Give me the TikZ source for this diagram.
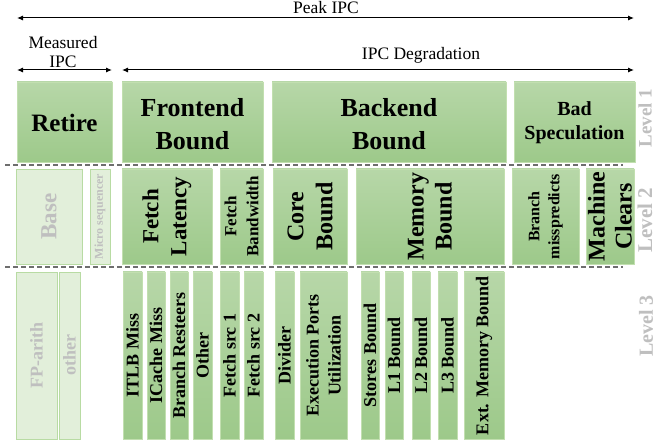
\documentclass[tikz,border=0pt]{standalone}
\usepackage{fontspec}
\setmainfont{Liberation Serif}
\usetikzlibrary{arrows.meta}
\definecolor{gtop}{HTML}{B7D7A8}
\definecolor{gbot}{HTML}{9DC98A}
\definecolor{gline}{HTML}{C2DFB0}
\definecolor{ffill}{HTML}{E2EFDA}
\definecolor{fline}{HTML}{B8DBA3}
\definecolor{ftext}{HTML}{BFBFBF}
\definecolor{lvl}{HTML}{BFBFBF}
\definecolor{dashc}{HTML}{6E6E6E}
\newcommand\fs[2]{\fontsize{#1}{#2}\selectfont}
\newcommand\bx[6]{\node[#1,minimum width={(#5-#3)*1pt},minimum height={(#6-#4)*1pt}] (#2) at ({(#3+#5)/2},{(#4+#6)/2}) {};}
\tikzset{
  gbox/.style={rectangle,draw=gline,line width=0.8pt,top color=gtop,bottom color=gbot,inner sep=0pt,outer sep=0pt},
  fbox/.style={rectangle,draw=fline,line width=0.8pt,fill=ffill,inner sep=0pt,outer sep=0pt},
  htxt/.style={inner sep=0pt,align=center,font=\bfseries},
  vtxt/.style={inner sep=0pt,align=center,rotate=90,font=\bfseries},
  ftxt/.style={vtxt,text=ftext},
  lvltxt/.style={inner sep=0pt,rotate=90,text=lvl,font=\bfseries},
  toptxt/.style={inner sep=0pt,align=center,font=\fs{17.5}{19}},
  ipc/.style={draw=black,line width=1pt,{Latex[length=6pt,width=5pt]}-{Latex[length=6pt,width=5pt]}},
  sepline/.style={draw=dashc,line width=1.5pt,dash pattern=on 5pt off 3pt}
}
\begin{document}
\begin{tikzpicture}[x=1pt,y=-1pt]
\useasboundingbox (0,0) rectangle (657,441);
% top arrows
\coordinate (pk1) at (17,18); \coordinate (pk2) at (634,18);
\draw[ipc] (pk1) -- (pk2);
\node[toptxt] (peak) at (326,8) {Peak IPC};
\coordinate (ms1) at (17,70); \coordinate (ms2) at (112,70);
\draw[ipc] (ms1) -- (ms2);
\node[toptxt] (meas) at (63,52) {Measured\\IPC};
\coordinate (dg1) at (122,70); \coordinate (dg2) at (634,70);
\draw[ipc] (dg1) -- (dg2);
\node[toptxt] (degr) at (421,55) {IPC Degradation};
% separators
\coordinate (s1a) at (5,165); \coordinate (s1b) at (623,165);
\coordinate (s2a) at (5,267); \coordinate (s2b) at (623,267);
\draw[sepline] (s1a) -- (s1b);
\draw[sepline] (s2a) -- (s2b);
% level 1
\bx{gbox}{retire}{17}{82}{112}{162}
\bx{gbox}{front}{122}{82}{263}{162}
\bx{gbox}{back}{272}{82}{506}{162}
\bx{gbox}{bads}{514}{82}{635}{162}
\node[htxt,font=\bfseries\fs{25}{30}] (retire-t) at ([yshift=-1pt]retire) {Retire};
\node[htxt,font=\bfseries\fs{26}{33}] (front-t) at ([yshift=-2pt]front) {Frontend\\Bound};
\node[htxt,font=\bfseries\fs{26}{33}] (back-t) at ([yshift=-2pt]back) {Backend\\Bound};
\node[htxt,font=\bfseries\fs{20}{24}] (bads-t) at ([yshift=-1pt]bads) {Bad\\Speculation};
% level 2
\bx{fbox}{base}{16}{169}{82}{264}
\bx{fbox}{micro}{90}{169}{110}{264}
\bx{gbox}{flat}{122}{169}{212}{264}
\bx{gbox}{fbw}{220}{169}{263}{264}
\bx{gbox}{core}{273}{169}{347}{264}
\bx{gbox}{mem}{356}{169}{504}{264}
\bx{gbox}{brm}{512}{169}{579}{264}
\bx{gbox}{mach}{586}{169}{634}{264}
\node[ftxt,font=\bfseries\fs{23}{27}] (base-t) at (base) {Base};
\node[ftxt,font=\bfseries\fs{12}{14}] (micro-t) at (micro) {Micro sequencer};
\node[vtxt,font=\bfseries\fs{23}{28}] (flat-t) at (flat) {Fetch\\Latency};
\node[vtxt,font=\bfseries\fs{17}{22}] (fbw-t) at (fbw) {Fetch\\Bandwidth};
\node[vtxt,font=\bfseries\fs{24}{29}] (core-t) at (core) {Core\\Bound};
\node[vtxt,font=\bfseries\fs{24}{28}] (mem-t) at (mem) {Memory\\Bound};
\node[vtxt,font=\bfseries\fs{16}{20}] (brm-t) at (brm) {Branch\\misspredicts};
\node[vtxt,font=\bfseries\fs{24}{27}] (mach-t) at (mach) {Machine\\Clears};
% level 3
\bx{fbox}{fpa}{16}{272}{57}{439}
\bx{fbox}{oth}{59}{272}{80}{439}
\bx{gbox}{itlb}{123}{272}{142}{439}
\bx{gbox}{icm}{147}{272}{165}{439}
\bx{gbox}{brr}{170}{272}{188}{439}
\bx{gbox}{other}{193}{272}{212}{439}
\bx{gbox}{fs1}{220}{272}{239}{439}
\bx{gbox}{fs2}{244}{272}{263}{439}
\bx{gbox}{div}{275}{272}{294}{439}
\bx{gbox}{epu}{300}{272}{347}{439}
\bx{gbox}{stb}{361}{272}{379}{439}
\bx{gbox}{l1b}{385}{272}{403}{439}
\bx{gbox}{l2b}{412}{272}{430}{439}
\bx{gbox}{l3b}{438}{272}{457}{439}
\bx{gbox}{ext}{464}{272}{504}{439}
\tikzset{l3/.style={vtxt,font=\bfseries\fs{18}{22}}}
\node[ftxt,font=\bfseries\fs{18}{22}] (fpa-t) at (fpa) {FP-arith};
\node[ftxt,font=\bfseries\fs{18}{22}] (oth-t) at (oth) {other};
\node[l3] (itlb-t) at (itlb) {ITLB Miss};
\node[l3] (icm-t) at (icm) {ICache Miss};
\node[l3] (brr-t) at (brr) {Branch Resteers};
\node[l3] (other-t) at (other) {Other};
\node[l3] (fs1-t) at (fs1) {Fetch src 1};
\node[l3] (fs2-t) at (fs2) {Fetch src 2};
\node[l3] (div-t) at (div) {Divider};
\node[l3] (epu-t) at (epu) {Execution Ports\\Utilization};
\node[l3] (stb-t) at (stb) {Stores Bound};
\node[l3] (l1b-t) at (l1b) {L1 Bound};
\node[l3] (l2b-t) at (l2b) {L2 Bound};
\node[l3] (l3b-t) at (l3b) {L3 Bound};
\node[l3] (ext-t) at (ext) {Ext. Memory Bound};
% level labels
\node[lvltxt,font=\bfseries\fs{19}{22}] (lv1) at (645,118) {Level 1};
\node[lvltxt,font=\bfseries\fs{21}{25}] (lv2) at (645,220) {Level 2};
\node[lvltxt,font=\bfseries\fs{20}{24}] (lv3) at (646,326) {Level 3};
\end{tikzpicture}
\end{document}
